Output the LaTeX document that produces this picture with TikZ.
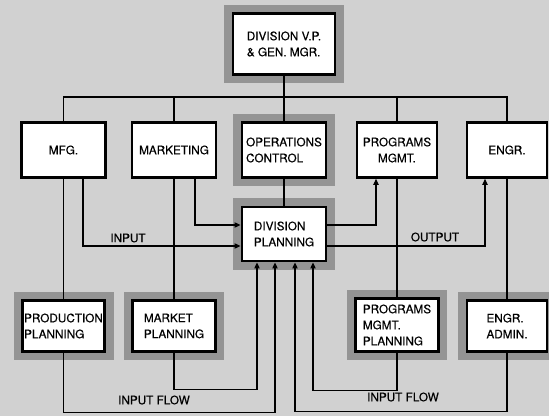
\documentclass[tikz,border=0pt]{standalone}
\usepackage{fontspec}
\setmainfont{TeX Gyre Heros}[FakeBold=0.35]
\usetikzlibrary{arrows.meta, positioning}

\begin{document}
\begin{tikzpicture}[x=0.75pt, y=-0.75pt, >={Triangle[length=4.5pt,width=4pt]},
  unit/.style={draw, line width=2.2pt, fill=white, inner sep=0pt,
    font=\fontsize{8.8}{12}\selectfont, align=left},
  framed/.style={unit, preaction={draw=black!42, line width=13pt}},
  link/.style={line width=0.8pt},
  flow/.style={line width=0.8pt, ->},
  lbl/.style={font=\fontsize{8.8}{12}\selectfont}]
  \useasboundingbox (0,0) rectangle (549,416);
  \clip (0,0) rectangle (549,416);
  \fill[black!18] (0,0) rectangle (549,416);

  % --- Top ---
  \node[framed, minimum width=76.5pt, minimum height=46pt] (vp) at (284,44) {DIVISION V.P.\\\& GEN. MGR.};
  \coordinate (bus) at (0,97);

  % --- Departments ---
  \node[unit, minimum width=63pt, minimum height=41pt] (mfg) at (63.5,150) {MFG.};
  \node[unit, minimum width=63pt, minimum height=41pt] (mkt) at (174,150) {MARKETING};
  \node[framed, minimum width=63pt, minimum height=41pt] (ops) at (284,150) {OPERATIONS\\CONTROL};
  \node[unit, minimum width=60pt, minimum height=41pt, align=center] (pgm) at (397,150) {PROGRAMS\\MGMT.};
  \node[unit, minimum width=60pt, minimum height=41pt] (engr) at (507,150) {ENGR.};

  % --- Division planning ---
  \node[framed, minimum width=63pt, minimum height=40.5pt] (dp) at (284,234) {DIVISION\\PLANNING};

  % --- Planning units ---
  \node[framed, minimum width=62pt, minimum height=38pt] (prod) at (63.5,326) {PRODUCTION\\PLANNING};
  \node[framed, minimum width=62pt, minimum height=38pt] (mktp) at (174,326) {MARKET\\PLANNING};
  \node[framed, minimum width=62pt, minimum height=40pt] (pgmp) at (397,325) {PROGRAMS\\MGMT.\\PLANNING};
  \node[framed, minimum width=60pt, minimum height=38pt] (eadm) at (507,326) {ENGR.\\ADMIN.};

  % Organisation lines
  \draw[link] (mfg.north) -- (mfg.north |- bus) -| (engr.north);
  \draw[link] (mkt.north) -- (mkt.north |- bus);
  \draw[link] (pgm.north) -- (pgm.north |- bus);
  \draw[link] (vp) -- (ops);
  \draw[link] (ops) -- (dp);
  \draw[link] (mfg) -- (prod);
  \draw[link] (mkt) -- (mktp);
  \draw[link] (pgm) -- (pgmp);
  \draw[link] (engr) -- (eadm);

  % Input / output
  \draw[flow] ([xshift=14.6pt]mfg.south) |- ([yshift=-9pt]dp.west);
  \draw[flow] ([xshift=15.75pt]mkt.south) |- ([yshift=6.75pt]dp.west);
  \draw[flow] ([yshift=6.75pt]dp.east) -| ([xshift=-15.75pt]pgm.south);
  \draw[flow] ([yshift=-9pt]dp.east) -| ([xshift=-16.5pt]engr.south);
  \node[lbl] (input) at (128,238) {INPUT};
  \node[lbl] (output) at (435,237) {OUTPUT};

  % Input flow
  \draw[flow] (prod.south) -- ++(0,60) -| ([xshift=-6.75pt]dp.south);
  \draw[flow] (mktp.south) -- ++(0,36.5) -| ([xshift=-20.25pt]dp.south);
  \draw[flow] (pgmp.south) -- ++(0,37.5) -| ([xshift=21.75pt]dp.south);
  \draw[flow] (eadm.south) -- ++(0,58.5) -| ([xshift=8.25pt]dp.south);
  \node[lbl] (flowl) at (154,400) {INPUT FLOW};
  \node[lbl] (flowr) at (403,397) {INPUT FLOW};
\end{tikzpicture}
\end{document}
